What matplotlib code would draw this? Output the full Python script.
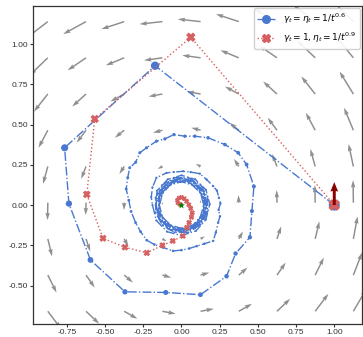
import numpy as np
import matplotlib
matplotlib.use("Agg")
import matplotlib.pyplot as plt
from matplotlib.lines import Line2D

plt.rcParams["font.family"] = ["Liberation Sans", "DejaVu Sans"]
plt.rcParams["mathtext.fontset"] = "dejavusans"

BLUE = "#4878d0"
RED = "#d65f5f"

# ── grid of the vector field (rotation field of the bilinear game) ──
field_x = [-0.875, -0.625, -0.375, -0.125, 0.125, 0.375, 0.625, 0.875, 1.125]
field_y = [-0.66, -0.435, -0.21, 0.015, 0.24, 0.465, 0.69, 0.915, 1.14]

# ── trajectory gamma = eta = 1/t^0.6 ──
blue_x = [1.000, -0.173, -0.765, -0.737, -0.596, -0.370, -0.103, 0.124, 0.295, 0.354,
          0.448, 0.461, 0.474, 0.426, 0.371, 0.284, 0.174, 0.087, 0.022, -0.050,
          -0.109, -0.164, -0.229, -0.273, -0.300, -0.339, -0.352, -0.362, -0.345, -0.330,
          -0.300, -0.268, -0.228, -0.178, -0.120, -0.055, 0.000, 0.050, 0.100, 0.150,
          0.207, 0.225, 0.240, 0.252, 0.243, 0.255, 0.245, 0.232, 0.207, 0.164,
          0.120, 0.060, 0.010, -0.050, -0.098, -0.164, -0.190, -0.198,
          # ring loops
          -0.190, -0.165, -0.095, 0.000, 0.095, 0.160, 0.185, 0.160, 0.090, 0.000, -0.090, -0.160,
          -0.170, -0.125, -0.045, 0.045, 0.125, 0.170, 0.170, 0.125, 0.045, -0.045, -0.125, -0.170,
          -0.165, -0.145, -0.080, 0.000, 0.085, 0.145, 0.165, 0.145, 0.080, 0.000, -0.085, -0.145,
          -0.150, -0.110, -0.040, 0.040, 0.110, 0.150, 0.150, 0.110, 0.040, -0.040, -0.110, -0.150,
          -0.145, -0.125, -0.070, 0.000, 0.075, 0.125, 0.145, 0.125, 0.070, 0.000, -0.075, -0.125,
          -0.155, -0.115, -0.040, 0.040, 0.115, 0.155, 0.155, 0.115, 0.040, -0.040, -0.115, -0.155,
          -0.170, -0.145, -0.085, 0.000, 0.085, 0.150, 0.170, 0.145, 0.085, 0.000, -0.085, -0.145,
          -0.145, -0.105, -0.040, 0.040, 0.105, 0.145, 0.145, 0.105, 0.040, -0.040, -0.105, -0.145]
blue_y = [0.000, 0.866, 0.356, 0.009, -0.341, -0.539, -0.543, -0.557, -0.442, -0.301,
          -0.200, -0.037, 0.116, 0.252, 0.325, 0.376, 0.418, 0.428, 0.428, 0.438,
          0.411, 0.397, 0.356, 0.325, 0.266, 0.232, 0.170, 0.100, 0.030, -0.040,
          -0.110, -0.165, -0.218, -0.245, -0.264, -0.285, -0.280, -0.270, -0.255, -0.240,
          -0.223, -0.170, -0.109, -0.070, -0.030, 0.010, 0.046, 0.090, 0.118, 0.159,
          0.195, 0.205, 0.210, 0.205, 0.200, 0.170, 0.110, 0.050,
          0.000, -0.095, -0.165, -0.190, -0.160, -0.090, 0.005, 0.095, 0.160, 0.185, 0.160, 0.090,
          -0.045, -0.125, -0.170, -0.170, -0.120, -0.040, 0.050, 0.125, 0.170, 0.170, 0.125, 0.045,
          0.000, -0.085, -0.145, -0.165, -0.140, -0.080, 0.005, 0.085, 0.145, 0.165, 0.140, 0.080,
          -0.040, -0.110, -0.150, -0.150, -0.110, -0.040, 0.040, 0.110, 0.150, 0.150, 0.110, 0.040,
          0.000, -0.075, -0.125, -0.145, -0.125, -0.070, 0.000, 0.075, 0.125, 0.145, 0.125, 0.070,
          -0.040, -0.115, -0.155, -0.155, -0.115, -0.040, 0.040, 0.115, 0.155, 0.155, 0.115, 0.040,
          0.000, -0.085, -0.150, -0.170, -0.145, -0.085, 0.000, 0.085, 0.145, 0.170, 0.145, 0.085,
          -0.040, -0.105, -0.145, -0.145, -0.105, -0.040, 0.040, 0.105, 0.145, 0.145, 0.105, 0.040]

# ── trajectory gamma = 1, eta = 1/t^0.9 ──
red_x = [1.000, 0.061, -0.568, -0.620, -0.514, -0.370, -0.227, -0.125, -0.057, 0.009,
         0.035, 0.050, 0.065, 0.070, 0.060, 0.048, 0.033, 0.018, 0.000, -0.016,
         -0.027, -0.024, -0.012, -0.003]
red_y = [0.000, 1.043, 0.535, 0.066, -0.206, -0.262, -0.297, -0.250, -0.223, -0.192,
         -0.140, -0.109, -0.075, -0.048, -0.020, 0.002, 0.024, 0.040, 0.048, 0.044,
         0.030, 0.014, 0.005, 0.001]

labels = [r"$\gamma_t = \eta_t = 1/t^{0.6}$", r"$\gamma_t = 1, \eta_t = 1/t^{0.9}$"]

fig = plt.figure(figsize=(3.63, 3.37), dpi=100)
ax = fig.add_axes([33 / 363, 13 / 337, 329 / 363, 318 / 337])

# campo vetorial
GX, GY = np.meshgrid(field_x, field_y)
U, V = -GY, GX
ax.quiver(GX, GY, U, V, color="#8f8f8f", scale=5, scale_units="inches",
          width=0.0045, zorder=1)

# trajetórias (marcadores diminuem com o passo)
t_b = np.arange(1, len(blue_x) + 1)
d_b = 11 * t_b ** -0.4 * 0.72
ax.plot(blue_x, blue_y, ls="-.", color=BLUE, lw=1.0, zorder=2)
ax.scatter(blue_x, blue_y, s=d_b ** 2, color=BLUE, marker="o", lw=0, zorder=2)

t_r = np.arange(1, len(red_x) + 1)
d_r = 10.5 * t_r ** -0.33 * 0.72
ax.plot(red_x, red_y, ls=":", color=RED, lw=1.0, zorder=3)
ax.scatter(red_x, red_y, s=d_r ** 2, color=RED, marker="X", lw=0.6,
           edgecolor=RED, zorder=3)

# gradiente inicial
ax.quiver([1.0], [0.0], [0.0], [1.0], color="#8b0000", scale=1 / 0.23,
          scale_units="inches", width=0.009, headwidth=2.6, headlength=3.2,
          headaxislength=3.0, zorder=4)

# ponto de equilíbrio
ax.scatter([0.0], [0.0], s=28, color="green", marker="*", lw=0, zorder=5)

ax.set_xlim(-0.972, 1.1815)
ax.set_ylim(-0.739, 1.237)
ax.set_xticks([-0.75, -0.5, -0.25, 0.0, 0.25, 0.5, 0.75, 1.0])
ax.set_yticks([-0.5, -0.25, 0.0, 0.25, 0.5, 0.75, 1.0])
ax.xaxis.set_major_formatter(matplotlib.ticker.FormatStrFormatter("%.2f"))
ax.yaxis.set_major_formatter(matplotlib.ticker.FormatStrFormatter("%.2f"))
ax.tick_params(labelsize=6, length=2.5, width=0.8, pad=1.2, colors="#333333")
for s in ax.spines.values():
    s.set_color("#333333")
    s.set_linewidth(0.9)

handles = [
    Line2D([], [], color=BLUE, ls="-.", lw=0.9, marker="o", markersize=5.5),
    Line2D([], [], color=RED, ls=":", lw=1.0, marker="X", markersize=6),
]
ax.legend(handles, labels, loc="upper right", fontsize=6.5, borderaxespad=0.25,
          framealpha=0.9, edgecolor="#cccccc", handlelength=2.0)

fig.savefig("out.png", dpi=100)
